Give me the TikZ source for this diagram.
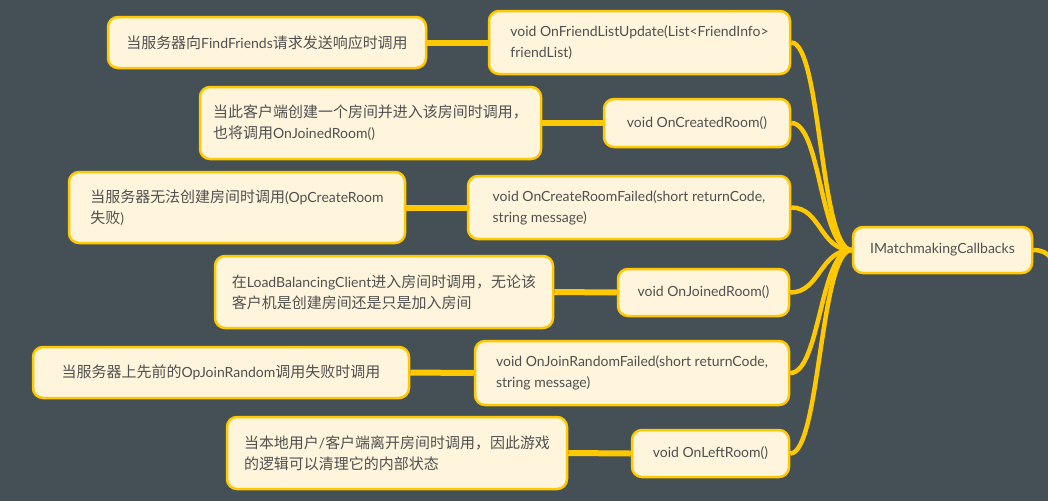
\documentclass[tikz,border=0pt]{standalone}
\usepackage{fontspec}
\setmainfont{Lato}
\newfontfamily\zh[Scale=1.07]{Noto Sans CJK SC}
\usetikzlibrary{backgrounds}
\definecolor{bg}{RGB}{69,80,86}
\definecolor{boxfill}{RGB}{255,245,221}
\definecolor{boxline}{RGB}{255,200,0}
\definecolor{txt}{RGB}{80,80,80}
\tikzset{
  box/.style={draw=boxline,fill=boxfill,line width=2.5pt,rounded corners=10pt,
    align=left,text=txt,font=\fontsize{14}{21}\selectfont,inner sep=0pt},
  link/.style={boxline,line width=6pt},
  branch/.style={boxline,line width=4.5pt}
}
\begin{document}
\begin{tikzpicture}[x=1pt,y=-1pt]
\useasboundingbox (0,0) rectangle (1048,501);
% descriptions
\node[box,minimum width=318pt,minimum height=51pt] (desc1) at (267,42.5)
  {{\zh 当服务器向}FindFriends{\zh 请求发送响应时调用}};
\node[box,minimum width=341pt,minimum height=72pt] (desc2) at (370.5,123)
  {{\zh 当此客户端创建一个房间并进入该房间时调用，}\\{\zh 也将调用}OnJoinedRoom()};
\node[box,minimum width=336pt,minimum height=71pt] (desc3) at (237,207.5)
  {{\zh 当服务器无法创建房间时调用}(OpCreateRoom\\{\zh 失败})};
\node[box,minimum width=338pt,minimum height=72pt] (desc4) at (384,292)
  {{\zh 在}LoadBalancingClient{\zh 进入房间时调用，无论该}\\{\zh 客户机是创建房间还是只是加入房间}};
\node[box,minimum width=376pt,minimum height=51pt] (desc5) at (221,372.5)
  {{\zh 当服务器上先前的}OpJoinRandom{\zh 调用失败时调用}};
\node[box,minimum width=340pt,minimum height=72pt] (desc6) at (397,453)
  {{\zh 当本地用户}/{\zh 客户端离开房间时调用，因此游戏}\\{\zh 的逻辑可以清理它的内部状态}};
% callbacks
\node[box,minimum width=301pt,minimum height=63pt] (cb1) at (639.5,42.5)
  {void OnFriendListUpdate(List<FriendInfo>\\friendList)};
\node[box,minimum width=186pt,minimum height=48pt] (cb2) at (697,123) {void OnCreatedRoom()};
\node[box,minimum width=322pt,minimum height=63pt] (cb3) at (629,207.5)
  {void OnCreateRoomFailed(short returnCode,\\string message)};
\node[box,minimum width=171pt,minimum height=47pt] (cb4) at (703.5,292.5) {void OnJoinedRoom()};
\node[box,minimum width=314pt,minimum height=64pt] (cb5) at (632,373)
  {void OnJoinRandomFailed(short returnCode,\\string message)};
\node[box,minimum width=157pt,minimum height=47pt] (cb6) at (710.5,453.5) {void OnLeftRoom()};
\node[box,minimum width=179pt,minimum height=46pt] (hub) at (942.5,250) {IMatchmakingCallbacks};
\coordinate (off) at (1058,335);
\begin{scope}[on background layer]
\fill[bg] (0,0) rectangle (1048,501);
\foreach \i in {1,...,6}{
  \draw[link] (desc\i.east) -- (cb\i.west);
  \draw[branch] (cb\i.east) .. controls +(30,0) and +(-32,0) .. (hub.west);
}
\draw[branch] (hub.east) to[out=0,in=95] (off);
\end{scope}
\end{tikzpicture}
\end{document}
